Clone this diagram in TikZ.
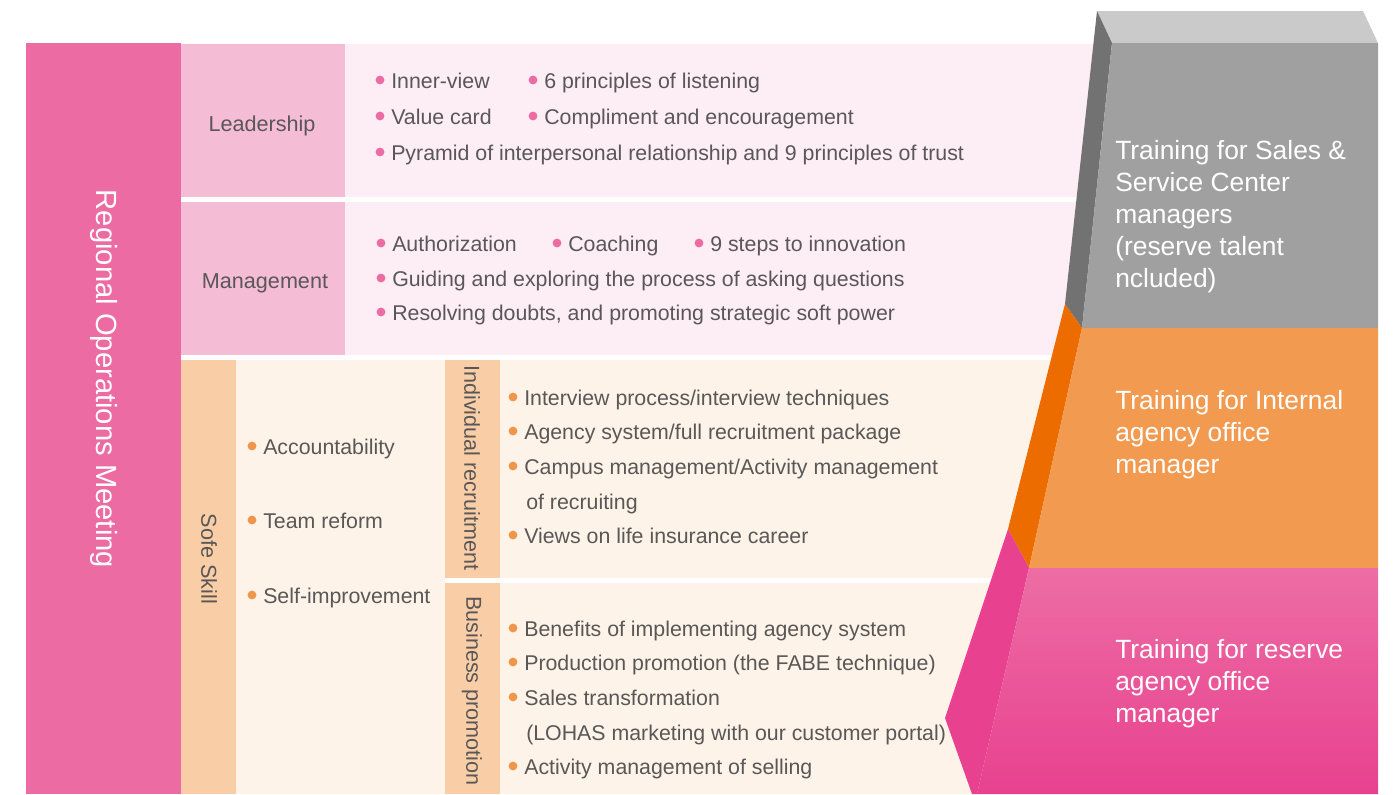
\documentclass[tikz,border=0pt]{standalone}
\usepackage{fontspec}
\setmainfont{Liberation Sans}
\definecolor{barpink}{HTML}{EC6BA3}
\definecolor{lblpink}{HTML}{F5BCD6}
\definecolor{bgpink}{HTML}{FDEDF5}
\definecolor{lblorange}{HTML}{F9CEA6}
\definecolor{bgorange}{HTML}{FDF3E8}
\definecolor{txtgray}{HTML}{595757}
\definecolor{bulpink}{HTML}{EC6BA3}
\definecolor{bulorange}{HTML}{F0964A}
\definecolor{graytop}{HTML}{C9CAC9}
\definecolor{grayside}{HTML}{727272}
\definecolor{grayfront}{HTML}{9FA09F}
\definecolor{orfront}{HTML}{F29A50}
\definecolor{orside}{HTML}{EC6C00}
\definecolor{pkside}{HTML}{E84190}
\definecolor{pktop}{HTML}{ED6DA4}
\definecolor{pkbot}{HTML}{E8418F}
\newcommand\BItem[5]{%
  \node[bdot,fill=#5] (#1d) at (#2,#3-1) {};
  \node[btxt] (#1) at (#2+11,#3+7.5) {#4};}
\newcommand\BCont[4]{%
  \node[btxt] (#1) at (#2,#3+7.5) {#4};}
\begin{document}
\begin{tikzpicture}[x=0.75pt,y=-0.75pt,
  btxt/.style={font=\fontsize{16}{18}\selectfont, text=txtgray, anchor=base west, inner sep=0pt},
  bdot/.style={circle, minimum size=6.6pt, inner sep=0pt, draw=none},
  lbl/.style={font=\fontsize{16.2}{19}\selectfont, text=txtgray, inner sep=0pt},
  rtxt/.style={font=\fontsize{19.8}{24}\selectfont, text=white, align=left, anchor=north west, inner sep=0pt}]
\useasboundingbox (0,0) rectangle (1397,794);
% left bar
\fill[barpink] (26,43) rectangle (180.5,794);
\node[font=\fontsize{21.9}{26}\selectfont, text=white, rotate=-90, inner sep=0pt] (rom) at (104,379) {Regional Operations Meeting};
% leadership row
\fill[lblpink] (180.5,44) rectangle (345,197);
\fill[bgpink] (345,44) rectangle (1100,197);
\node[lbl] (lead) at (262,126) {Leadership};
% management row
\fill[lblpink] (180.5,202) rectangle (345,355);
\fill[bgpink] (345,202) rectangle (1100,355);
\node[lbl] (mgmt) at (265,283) {Management};
% soft skill
\fill[lblorange] (180.5,360) rectangle (236,794);
\fill[bgorange] (236,360) rectangle (445,794);
\fill[lblorange] (445,360) rectangle (500,578);
\fill[bgorange] (500,360) rectangle (1100,578);
\fill[lblorange] (445,583) rectangle (500,794);
\fill[bgorange] (500,583) rectangle (1100,794);
\node[lbl, rotate=-90] (ssk) at (209,559) {Sofe Skill};
\node[lbl, rotate=-90] (irec) at (472,468) {Individual recruitment};
\node[lbl, rotate=-90] (bpro) at (472,691) {Business promotion};
% leadership items
\BItem{l1}{380}{81}{Inner-view}{bulpink}
\BItem{l2}{533}{81}{6 principles of listening}{bulpink}
\BItem{l3}{380}{117}{Value card}{bulpink}
\BItem{l4}{533}{117}{Compliment and encouragement}{bulpink}
\BItem{l5}{380}{153}{Pyramid of interpersonal relationship and 9 principles of trust}{bulpink}
% management items
\BItem{m1}{381}{244}{Authorization}{bulpink}
\BItem{m2}{557}{244}{Coaching}{bulpink}
\BItem{m3}{699}{244}{9 steps to innovation}{bulpink}
\BItem{m4}{381}{279}{Guiding and exploring the process of asking questions}{bulpink}
\BItem{m5}{381}{313}{Resolving doubts, and promoting strategic soft power}{bulpink}
% soft skill items
\BItem{s1}{252}{447}{Accountability}{bulorange}
\BItem{s2}{252}{521}{Team reform}{bulorange}
\BItem{s3}{252}{596}{Self-improvement}{bulorange}
% individual recruitment
\BItem{r1}{513}{398}{Interview process/interview techniques}{bulorange}
\BItem{r2}{513}{432}{Agency system/full recruitment package}{bulorange}
\BItem{r3}{513}{467}{Campus management/Activity management}{bulorange}
\BCont{r3b}{526}{502}{of recruiting}
\BItem{r4}{513}{536}{Views on life insurance career}{bulorange}
% business promotion
\BItem{b1}{513}{629}{Benefits of implementing agency system}{bulorange}
\BItem{b2}{513}{663}{Production promotion (the FABE technique)}{bulorange}
\BItem{b3}{513}{698}{Sales transformation}{bulorange}
\BCont{b3b}{526}{733}{(LOHAS marketing with our customer portal)}
\BItem{b4}{513}{767}{Activity management of selling}{bulorange}
% right stacked shape
\fill[graytop] (1097,11) -- (1363,11) -- (1378,43) -- (1112,43) -- cycle;
\fill[grayside] (1097,11) -- (1112,43) -- (1082,328) -- (1065,304) -- cycle;
\fill[grayfront] (1112,43) -- (1378,43) -- (1378,328) -- (1082,328) -- cycle;
\fill[orside] (1065,304) -- (1082,328) -- (1029,568) -- (1008,529) -- cycle;
\fill[orfront] (1082,328) -- (1378,328) -- (1378,568) -- (1029,568) -- cycle;
\fill[pkside] (1008,529) -- (1029,568) -- (977,794) -- (972,794) -- (945,718) -- cycle;
\shade[top color=pktop, bottom color=pkbot] (1029,568) -- (1378,568) -- (1378,794) -- (977,794) -- cycle;
\node[rtxt] (t1) at (1115,140) {Training for Sales \&\\Service Center\\managers\\(reserve talent\\ncluded)};
\node[rtxt] (t2) at (1115,390) {Training for Internal\\agency office\\manager};
\node[rtxt] (t3) at (1115,639) {Training for reserve\\agency office\\manager};
\end{tikzpicture}
\end{document}
